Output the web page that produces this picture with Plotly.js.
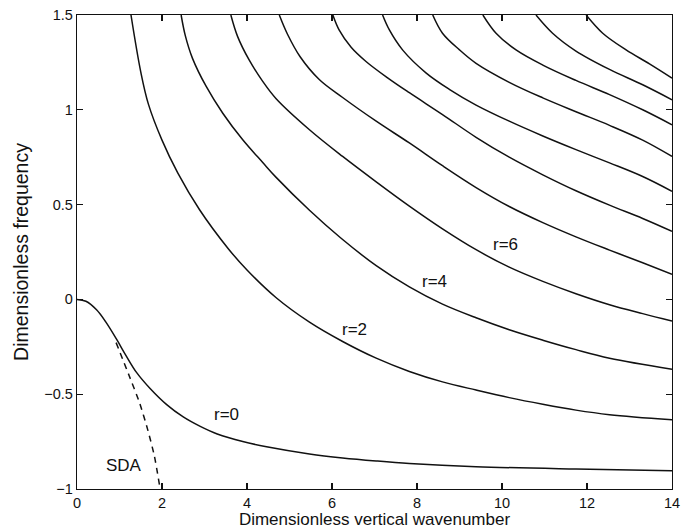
<!DOCTYPE html>
<html>
<head>
<meta charset="utf-8">
<script src="https://cdn.plot.ly/plotly-3.0.1.min.js"></script>
<style>html,body{margin:0;padding:0;background:#fff;}#chart{width:681px;height:529px;}</style>
</head>
<body>
<div id="chart"></div>
<script>
// Dimensionless vertical wavenumber (k) and dimensionless frequency (w) for each mode r
var r0_k = [0, 0.21, 0.46, 0.68, 0.93, 1.15, 1.40, 1.72, 2.11, 2.50, 2.90, 3.30, 3.90, 4.46, 5.47, 6.25, 7.04, 7.82, 9.39, 11.74, 14];
var r0_w = [0, -0.01, -0.055, -0.12, -0.21, -0.295, -0.385, -0.47, -0.555, -0.62, -0.67, -0.71, -0.75, -0.777, -0.815, -0.836, -0.852, -0.865, -0.882, -0.895, -0.904];

var r2_k = [1.27, 1.50, 1.68, 2.00, 2.37, 2.88, 3.55, 4.00, 4.68, 5.47, 6.25, 7.04, 7.82, 8.60, 9.39, 10.17, 10.96, 11.74, 12.53, 14];
var r2_w = [1.5, 1.20, 1.03, 0.84, 0.667, 0.474, 0.27, 0.155, 0.01, -0.12, -0.222, -0.31, -0.38, -0.435, -0.478, -0.518, -0.553, -0.584, -0.608, -0.635];

var r4_k = [2.45, 2.55, 2.72, 3.04, 3.43, 3.90, 4.37, 4.68, 5.47, 6.20, 7.04, 7.82, 8.60, 9.39, 10.17, 10.96, 11.74, 12.53, 14];
var r4_w = [1.5, 1.39, 1.27, 1.123, 0.982, 0.842, 0.722, 0.645, 0.47, 0.325, 0.178, 0.066, -0.025, -0.097, -0.16, -0.215, -0.265, -0.31, -0.368];

var r6_k = [3.62, 3.78, 4.05, 4.37, 4.68, 5.47, 6.25, 7.04, 7.82, 8.60, 9.39, 10.17, 10.96, 11.74, 12.53, 13.31, 14];
var r6_w = [1.5, 1.386, 1.263, 1.15, 1.06, 0.895, 0.754, 0.62, 0.492, 0.372, 0.262, 0.17, 0.095, 0.03, -0.028, -0.075, -0.114];

var r8_k = [4.76, 4.95, 5.25, 5.70, 6.25, 7.04, 7.82, 8.60, 9.39, 10.17, 10.96, 11.74, 12.53, 13.31, 14];
var r8_w = [1.5, 1.40, 1.28, 1.16, 1.065, 0.94, 0.825, 0.705, 0.59, 0.49, 0.405, 0.33, 0.26, 0.193, 0.132];

var r10_k = [6.02, 6.17, 6.45, 6.80, 7.30, 7.82, 8.60, 9.39, 10.17, 10.96, 11.74, 12.53, 13.31, 14];
var r10_w = [1.5, 1.42, 1.33, 1.255, 1.17, 1.09, 0.975, 0.855, 0.75, 0.657, 0.573, 0.497, 0.427, 0.359];

var r12_k = [7.19, 7.35, 7.66, 8.21, 8.76, 9.39, 10.17, 10.96, 11.74, 12.53, 13.31, 14];
var r12_w = [1.5, 1.421, 1.316, 1.195, 1.108, 1.025, 0.94, 0.862, 0.79, 0.72, 0.648, 0.570];

var r14_k = [8.37, 8.60, 9.0, 9.39, 10.17, 10.96, 11.74, 12.53, 13.31, 14];
var r14_w = [1.5, 1.404, 1.316, 1.245, 1.145, 1.063, 0.99, 0.918, 0.84, 0.754];

var r16_k = [9.55, 9.86, 10.33, 10.96, 11.74, 12.53, 13.31, 14];
var r16_w = [1.5, 1.404, 1.316, 1.236, 1.155, 1.08, 1.0, 0.921];

var r18_k = [10.8, 11.19, 11.74, 12.53, 13.31, 14];
var r18_w = [1.5, 1.404, 1.31, 1.213, 1.132, 1.053];

var r20_k = [11.98, 12.37, 12.92, 13.47, 14];
var r20_w = [1.5, 1.404, 1.316, 1.242, 1.167];

// SDA approximation (dashed)
var sda_k = [0.92, 1.23, 1.47, 1.66, 1.82, 1.95];
var sda_w = [-0.228, -0.404, -0.544, -0.684, -0.825, -0.991];

// Curve labels
var label_text = ["r=0", "r=2", "r=4", "r=6", "SDA"];
var label_k = [3.51, 6.52, 8.41, 10.08, 1.11];
var label_w = [-0.605, -0.158, 0.096, 0.289, -0.877];

var xTicks = [0, 2, 4, 6, 8, 10, 12, 14];
var yTicks = [-1, -0.5, 0, 0.5, 1, 1.5];

var modes = [
  [r0_k, r0_w], [r2_k, r2_w], [r4_k, r4_w], [r6_k, r6_w], [r8_k, r8_w], [r10_k, r10_w],
  [r12_k, r12_w], [r14_k, r14_w], [r16_k, r16_w], [r18_k, r18_w], [r20_k, r20_w]
];

var traces = modes.map(function (m, i) {
  return {
    x: m[0], y: m[1], type: 'scatter', mode: 'lines', name: 'r=' + (2 * i),
    line: {color: '#111', width: 1.5, shape: 'spline', smoothing: 1},
    showlegend: false
  };
});
traces.push({
  x: sda_k, y: sda_w, type: 'scatter', mode: 'lines', name: 'SDA',
  line: {color: '#111', width: 1.5, dash: '6px,5px', shape: 'spline', smoothing: 0.6},
  showlegend: false
});

var FONT = 'Liberation Sans, Arial, sans-serif';
var annotations = label_text.map(function (t, i) {
  return {x: label_k[i], y: label_w[i], xref: 'x', yref: 'y', text: t, showarrow: false,
          font: {family: FONT, size: 17, color: '#111'}};
});

var axisCommon = {
  showgrid: false, zeroline: false, showline: true, linecolor: '#111', linewidth: 1.3,
  mirror: 'allticks', ticks: 'inside', ticklen: 6, tickwidth: 1.3, tickcolor: '#111',
  tickfont: {family: FONT, size: 14.5, color: '#111'}
};

var layout = {
  width: 681, height: 529,
  margin: {l: 77, r: 9, t: 15, b: 40},
  paper_bgcolor: '#fff', plot_bgcolor: '#fff',
  showlegend: false,
  xaxis: Object.assign({}, axisCommon, {
    range: [0, 14], tickvals: xTicks,
    title: {text: 'Dimensionless vertical wavenumber', standoff: 4,
            font: {family: FONT, size: 17, color: '#111'}}
  }),
  yaxis: Object.assign({}, axisCommon, {
    range: [-1, 1.5], tickvals: yTicks,
    title: {text: 'Dimensionless frequency', standoff: 10,
            font: {family: FONT, size: 19.5, color: '#111'}}
  }),
  annotations: annotations
};

Plotly.newPlot('chart', traces, layout, {displayModeBar: false, staticPlot: true});
</script>
</body>
</html>
